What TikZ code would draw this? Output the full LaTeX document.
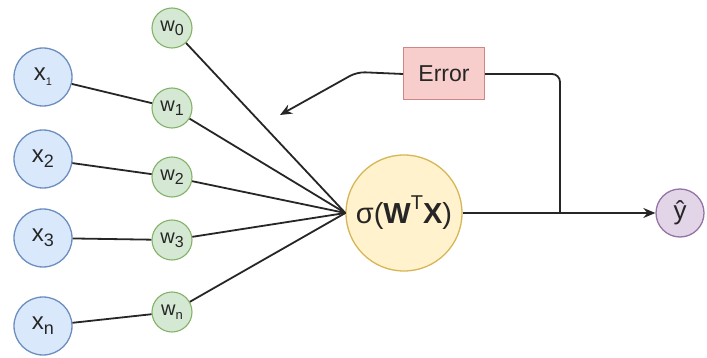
\documentclass[tikz,border=0pt]{standalone}
\usepackage{fontspec}
\setmainfont{Liberation Sans}
\usetikzlibrary{arrows.meta}
\definecolor{bfill}{HTML}{DAE8FC}\definecolor{bdraw}{HTML}{6C8EBF}
\definecolor{gfill}{HTML}{D5E8D4}\definecolor{gdraw}{HTML}{82B366}
\definecolor{yfill}{HTML}{FFF2CC}\definecolor{ydraw}{HTML}{D6B656}
\definecolor{rfill}{HTML}{F8CECC}\definecolor{rdraw}{HTML}{B85450}
\definecolor{pfill}{HTML}{E1D5E7}\definecolor{pdraw}{HTML}{9673A6}
\definecolor{edgec}{HTML}{262626}
\newcommand{\mysub}[2][16]{\raisebox{-0.4ex}{\fontsize{#1}{#1}\selectfont #2}}
\begin{document}
\begin{tikzpicture}[x=1pt,y=-1pt,
  xnode/.style={circle,draw=bdraw,fill=bfill,line width=1.3pt,minimum size=58pt,inner sep=0pt,font=\fontsize{24}{24}\selectfont,text=edgec},
  wnode/.style={circle,draw=gdraw,fill=gfill,line width=1.1pt,minimum size=40pt,inner sep=0pt,font=\fontsize{20}{20}\selectfont,text=edgec},
  signode/.style={circle,draw=ydraw,fill=yfill,line width=1.3pt,minimum size=116pt,inner sep=0pt,font=\fontsize{29}{29}\selectfont,text=edgec},
  errnode/.style={rectangle,draw=rdraw!70,fill=rfill,line width=1pt,minimum width=81pt,minimum height=52pt,inner sep=0pt,font=\fontsize{23}{23}\selectfont,text=edgec},
  ynode/.style={circle,draw=pdraw,fill=pfill,line width=1.3pt,minimum size=48pt,inner sep=0pt,font=\fontsize{26}{26}\selectfont,text=edgec},
  edge/.style={draw=edgec,line width=1.8pt},
  arr/.style={edge,-{Stealth[length=12pt,width=10pt]}}]
\useasboundingbox (0,0) rectangle (707,358);
\node[xnode] (x1) at (43,77) {x\mysub[11]{1}};
\node[xnode] (x2) at (43,159) {x\mysub[18]{2}};
\node[xnode] (x3) at (43,238) {x\mysub[18]{3}};
\node[xnode] (xn) at (43,326) {x\mysub[18]{n}};
\node[wnode] (w0) at (172,28) {w\mysub{0}};
\node[wnode] (w1) at (172,108) {w\mysub{1}};
\node[wnode] (w2) at (172,177) {w\mysub{2}};
\node[wnode] (w3) at (172,240) {w\mysub{3}};
\node[wnode] (wn) at (172,312) {w\mysub[13]{n}};
\node[signode] (sig) at (404,213) {σ(\textbf{W}\raisebox{0.9ex}{\fontsize{20}{20}\selectfont T}\textbf{X})};
\node[ynode] (y) at (680,213) {ŷ};
\node[errnode] (err) at (444,74) {Error};
\coordinate (tap) at (560,213);
\coordinate (bend) at (357,72);
\coordinate (tip) at (280,115);
\foreach \i in {1,2,3,n} {\draw[edge] (x\i) -- (w\i);}
\foreach \i in {0,1,2,3,n} {\draw[edge] (w\i) -- (sig.west);}
\draw[arr] (sig) -- (y);
\draw[edge,rounded corners=8pt] (tap) |- (err.east);
\draw[arr,rounded corners=8pt] (err.west) -- (bend) -- (tip);
\end{tikzpicture}
\end{document}
